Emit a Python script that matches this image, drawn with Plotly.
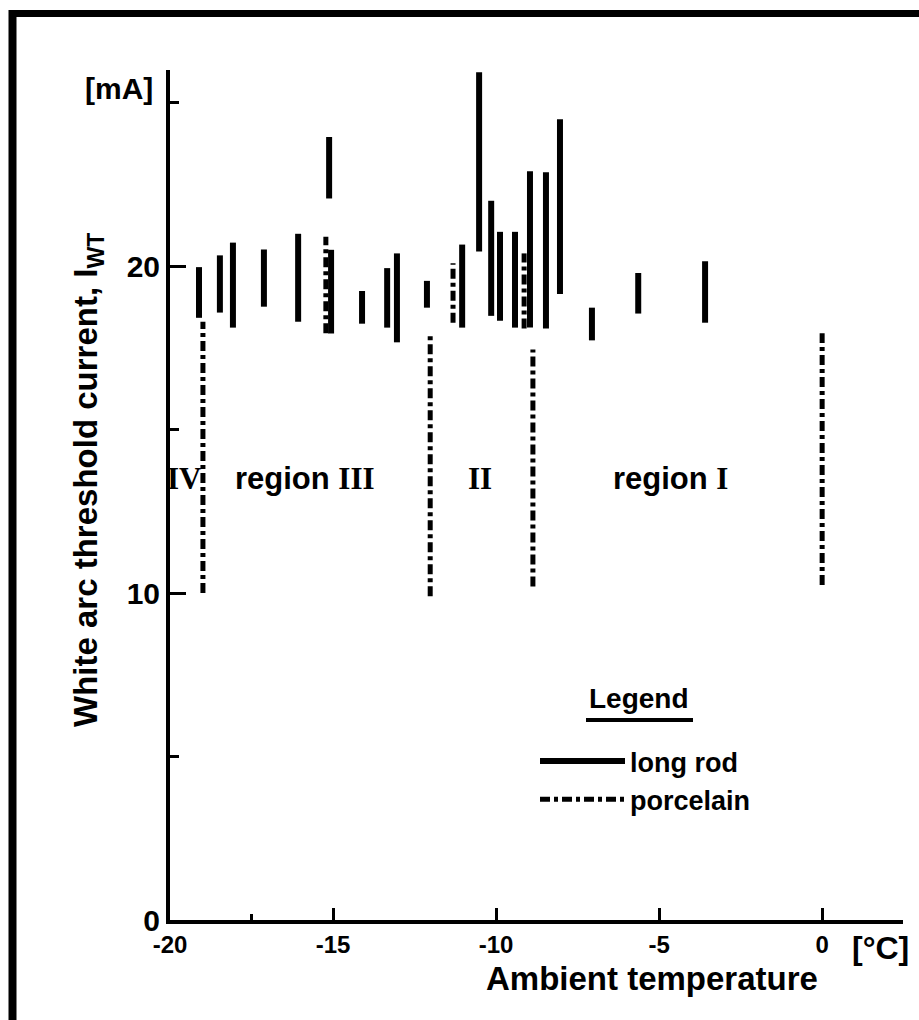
import plotly.graph_objects as go

# ---------------- data ----------------
# long rod insulators: temperature [°C], lower / upper white-arc threshold current [mA]
rod_temp = [-19.11, -18.47, -18.07, -17.12, -16.07, -15.12, -15.06, -14.11, -13.34, -13.04,
            -12.12, -11.04, -10.52, -10.15, -9.88, -9.42, -8.96, -8.47, -8.04, -7.06,
            -5.64, -3.59]
rod_low = [18.42, 18.58, 18.12, 18.76, 18.30, 22.07, 17.94, 18.24, 18.12, 17.67,
           18.73, 18.12, 20.45, 18.48, 18.33, 18.12, 18.12, 18.09, 19.15, 17.73,
           18.55, 18.27]
rod_high = [19.97, 20.33, 20.72, 20.51, 20.99, 23.95, 20.50, 19.24, 19.94, 20.39,
            19.55, 20.66, 25.93, 22.00, 21.05, 21.05, 22.90, 22.87, 24.49, 18.73,
            19.79, 20.15]

# porcelain insulators
por_temp = [-18.99, -15.22, -12.02, -11.32, -9.14, -8.87, 0.0]
por_low = [10.0, 17.95, 9.9, 18.27, 18.09, 10.2, 10.25]
por_high = [18.3, 20.9, 17.9, 20.09, 20.39, 17.45, 17.95]

# region labels
region_word = ["", "region", "", "region"]
region_num = ["IV", "III", "II", "I"]
region_x = [-19.57, -15.86, -10.49, -4.66]
region_y = [13.5, 13.5, 13.5, 13.5]

x_ticks = [-20, -15, -10, -5, 0]
x_ticklabels = ["-20", "-15", "-10", "-5", "0"]
x_minor = [-17.5]
y_ticks = [0, 10, 20]
y_ticklabels = ["0", "10", "20"]
y_minor = [5, 15, 25]


def segments(xs, lo, hi):
    X, Y = [], []
    for x, a, b in zip(xs, lo, hi):
        X += [x, x, None]
        Y += [a, b, None]
    return X, Y


FONT = "Liberation Sans"
SERIF = "Liberation Serif"

fig = go.Figure()
rx, ry = segments(rod_temp, rod_low, rod_high)
fig.add_trace(go.Scatter(x=rx, y=ry, mode="lines", name="long rod",
                         line=dict(color="black", width=6), connectgaps=False))
px_, py_ = segments(por_temp, por_low, por_high)
fig.add_trace(go.Scatter(x=px_, y=py_, mode="lines", name="porcelain",
                         line=dict(color="black", width=5, dash="10px,4px,4px,4px"),
                         connectgaps=False))

# plot area in pixels: x 170..903, y 70..920
L, R, T, B = 170, 903, 70, 920
W, H = 919, 1020


def pxx(p):
    return (p - L) / (R - L)


def pyy(p):
    return (B - p) / (B - T)


for w, n, xx, yy in zip(region_word, region_num, region_x, region_y):
    num = "<span style=\"font-family:'" + SERIF + "'\">" + n + "</span>"
    txt = (w + " " + num) if w else num
    fig.add_annotation(x=xx, y=yy, xref="x", yref="y", text=txt, showarrow=False,
                       xanchor="center", yanchor="middle",
                       font=dict(family=FONT, size=31, color="black", weight="bold"))

# axis titles and units
fig.add_annotation(x=pxx(88), y=pyy(480), xref="paper", yref="paper",
                   xanchor="center", yanchor="middle",
                   text="White arc threshold current, I<sub>WT</sub>", textangle=-90,
                   showarrow=False, font=dict(family=FONT, size=33, color="black", weight="bold"))
fig.add_annotation(x=pxx(652), y=pyy(979), xref="paper", yref="paper",
                   xanchor="center", yanchor="middle",
                   text="Ambient temperature", showarrow=False,
                   font=dict(family=FONT, size=33, color="black", weight="bold"))
fig.add_annotation(x=pxx(880), y=pyy(948), xref="paper", yref="paper",
                   xanchor="center", yanchor="middle",
                   text="[°C]", showarrow=False,
                   font=dict(family=FONT, size=32, color="black", weight="bold"))
fig.add_annotation(x=pxx(119), y=pyy(89), xref="paper", yref="paper",
                   xanchor="center", yanchor="middle",
                   text="[mA]", showarrow=False,
                   font=dict(family=FONT, size=30, color="black", weight="bold"))

# legend heading with thick underline
fig.add_annotation(x=pxx(639), y=pyy(698), xref="paper", yref="paper",
                   xanchor="center", yanchor="middle",
                   text="Legend", showarrow=False,
                   font=dict(family=FONT, size=28, color="black", weight="bold"))
fig.add_shape(type="line", xref="paper", yref="paper", x0=pxx(586), x1=pxx(693),
              y0=pyy(720), y1=pyy(720), line=dict(color="black", width=4))

# outer frame (left and top)
fig.add_shape(type="line", xref="paper", yref="paper", x0=pxx(12.5), x1=pxx(12.5),
              y0=pyy(10), y1=pyy(1030), line=dict(color="black", width=8))
fig.add_shape(type="line", xref="paper", yref="paper", x0=pxx(9), x1=pxx(930),
              y0=pyy(13.5), y1=pyy(13.5), line=dict(color="black", width=7))

fig.update_layout(
    width=W, height=H,
    margin=dict(l=L, r=W - R, t=T, b=H - B, pad=0),
    paper_bgcolor="white", plot_bgcolor="white",
    showlegend=True,
    legend=dict(x=pxx(535), y=pyy(737), xanchor="left", yanchor="top",
                bgcolor="rgba(0,0,0,0)", itemwidth=85,
                font=dict(family=FONT, size=27, color="black", weight="bold"),
                tracegroupgap=0),
    font=dict(family=FONT, color="black"),
)
fig.update_xaxes(range=[-20, 2.48], showgrid=False, zeroline=False,
                 showline=True, linecolor="black", linewidth=4,
                 ticks="inside", ticklen=12, tickwidth=3, tickcolor="black",
                 tickvals=x_ticks, ticktext=x_ticklabels,
                 tickfont=dict(family=FONT, size=24, color="black", weight="bold"),
                 minor=dict(tickvals=x_minor, ticks="inside", ticklen=6, tickwidth=3,
                            tickcolor="black"))
fig.update_yaxes(range=[0, 26.0], showgrid=False, zeroline=False,
                 showline=True, linecolor="black", linewidth=4,
                 ticks="inside", ticklen=16, tickwidth=3, tickcolor="black",
                 tickvals=y_ticks, ticktext=y_ticklabels,
                 tickfont=dict(family=FONT, size=30, color="black", weight="bold"),
                 minor=dict(tickvals=y_minor, ticks="inside", ticklen=9, tickwidth=3,
                            tickcolor="black"))

fig.write_html("out.html")
